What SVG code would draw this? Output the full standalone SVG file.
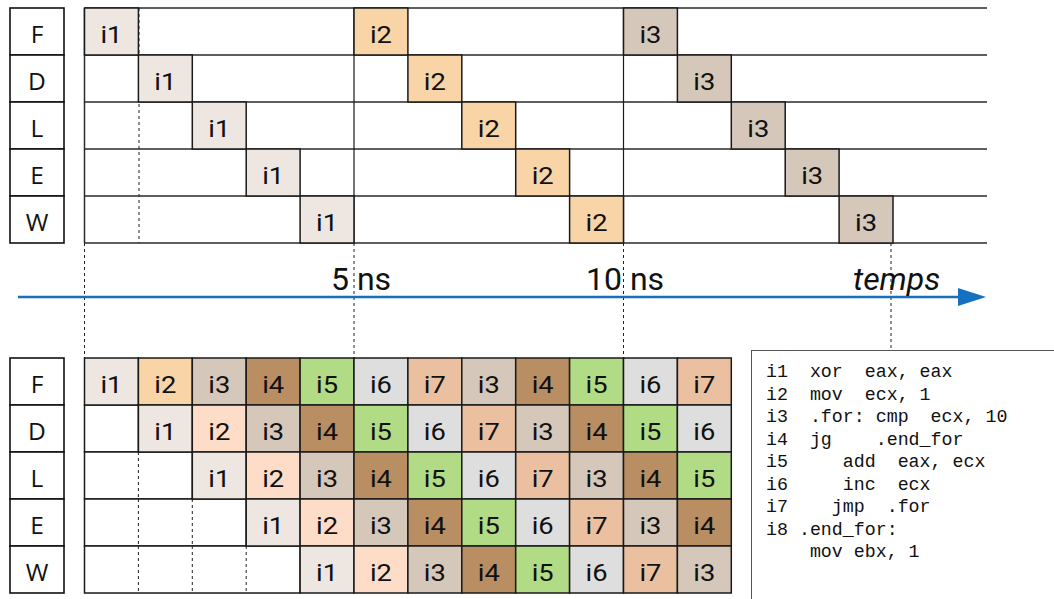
<svg xmlns="http://www.w3.org/2000/svg" width="1054" height="599" viewBox="0 0 1054 599">
<style>
.lb{fill:#fff;stroke:#111;stroke-width:1.6}
.lt{font-family:"Open Sans","Noto Sans",sans-serif;font-size:24.5px;fill:#111;text-anchor:middle}
.cr{stroke:#1a1a1a;stroke-width:1.5}
.ct{font-family:Roboto,"Liberation Sans",sans-serif;font-size:23px;fill:#111;text-anchor:middle}
.empty{fill:#fff;stroke:#1a1a1a;stroke-width:1.5}
.row{stroke:#2a2a2a;stroke-width:1.5;fill:none}
.sol{stroke:#1a1a1a;stroke-width:1.2;fill:none}
.dash{stroke:#222;stroke-width:1;stroke-dasharray:3 3;fill:none}
.c1{fill:#EEE6E0}.c2{fill:#F8D4A7}.c2b{fill:#FEDDC8}.c3{fill:#D5C7BA}.c4{fill:#B88E62}.c5{fill:#B1DC85}.c6{fill:#DEDEDE}.c7{fill:#EBC0A1}
.tl{font-family:Roboto,"Liberation Sans",sans-serif;font-size:32px;fill:#111}
.code{font-family:"Liberation Mono","DejaVu Sans Mono",monospace;font-size:18.3px;fill:#111}
</style>
<rect width="1054" height="599" fill="#fff"/>

<!-- top labels -->
<g id="top-labels">
<g id="tlF"><rect class="lb" x="10" y="8" width="54" height="47"/><text class="lt" x="37" y="42.5">F</text></g>
<g id="tlD"><rect class="lb" x="10" y="55" width="54" height="47"/><text class="lt" x="37" y="89.5">D</text></g>
<g id="tlL"><rect class="lb" x="10" y="102" width="54" height="47"/><text class="lt" x="37" y="136.5">L</text></g>
<g id="tlE"><rect class="lb" x="10" y="149" width="54" height="47"/><text class="lt" x="37" y="183.5">E</text></g>
<g id="tlW"><rect class="lb" x="10" y="196" width="54" height="47"/><text class="lt" x="37" y="230.5">W</text></g>
</g>

<!-- top grid lines -->
<g id="top-grid">
<line class="row" x1="84.5" y1="8" x2="987" y2="8"/>
<line class="row" x1="84.5" y1="55" x2="987" y2="55"/>
<line class="row" x1="84.5" y1="102" x2="987" y2="102"/>
<line class="row" x1="84.5" y1="149" x2="987" y2="149"/>
<line class="row" x1="84.5" y1="196" x2="987" y2="196"/>
<line class="row" x1="84.5" y1="243" x2="987" y2="243"/>
<line class="row" x1="84.5" y1="8" x2="84.5" y2="243"/>
<line class="sol" x1="354" y1="8" x2="354" y2="243"/>
<line class="sol" x1="623.5" y1="8" x2="623.5" y2="243"/>
<line class="dash" x1="139" y1="8" x2="139" y2="243"/>
</g>

<!-- top cells -->
<g id="top-cells">
<g id="t-F-i1"><rect class="cr c1" x="84.5" y="8" width="53.9" height="47"/><text class="ct" x="111.45" y="42.5" textLength="22" lengthAdjust="spacingAndGlyphs">i1</text></g>
<g id="t-D-i1"><rect class="cr c1" x="138.4" y="55" width="53.9" height="47"/><text class="ct" x="165.35" y="89.5" textLength="22" lengthAdjust="spacingAndGlyphs">i1</text></g>
<g id="t-L-i1"><rect class="cr c1" x="192.3" y="102" width="53.9" height="47"/><text class="ct" x="219.25" y="136.5" textLength="22" lengthAdjust="spacingAndGlyphs">i1</text></g>
<g id="t-E-i1"><rect class="cr c1" x="246.2" y="149" width="53.9" height="47"/><text class="ct" x="273.15" y="183.5" textLength="22" lengthAdjust="spacingAndGlyphs">i1</text></g>
<g id="t-W-i1"><rect class="cr c1" x="300.1" y="196" width="53.9" height="47"/><text class="ct" x="327.05" y="230.5" textLength="22" lengthAdjust="spacingAndGlyphs">i1</text></g>
<g id="t-F-i2"><rect class="cr c2" x="354" y="8" width="53.9" height="47"/><text class="ct" x="380.95" y="42.5" textLength="22" lengthAdjust="spacingAndGlyphs">i2</text></g>
<g id="t-D-i2"><rect class="cr c2" x="407.9" y="55" width="53.9" height="47"/><text class="ct" x="434.85" y="89.5" textLength="22" lengthAdjust="spacingAndGlyphs">i2</text></g>
<g id="t-L-i2"><rect class="cr c2" x="461.8" y="102" width="53.9" height="47"/><text class="ct" x="488.75" y="136.5" textLength="22" lengthAdjust="spacingAndGlyphs">i2</text></g>
<g id="t-E-i2"><rect class="cr c2" x="515.7" y="149" width="53.9" height="47"/><text class="ct" x="542.65" y="183.5" textLength="22" lengthAdjust="spacingAndGlyphs">i2</text></g>
<g id="t-W-i2"><rect class="cr c2" x="569.6" y="196" width="53.9" height="47"/><text class="ct" x="596.55" y="230.5" textLength="22" lengthAdjust="spacingAndGlyphs">i2</text></g>
<g id="t-F-i3"><rect class="cr c3" x="623.5" y="8" width="53.9" height="47"/><text class="ct" x="650.45" y="42.5" textLength="22" lengthAdjust="spacingAndGlyphs">i3</text></g>
<g id="t-D-i3"><rect class="cr c3" x="677.4" y="55" width="53.9" height="47"/><text class="ct" x="704.35" y="89.5" textLength="22" lengthAdjust="spacingAndGlyphs">i3</text></g>
<g id="t-L-i3"><rect class="cr c3" x="731.3" y="102" width="53.9" height="47"/><text class="ct" x="758.25" y="136.5" textLength="22" lengthAdjust="spacingAndGlyphs">i3</text></g>
<g id="t-E-i3"><rect class="cr c3" x="785.2" y="149" width="53.9" height="47"/><text class="ct" x="812.15" y="183.5" textLength="22" lengthAdjust="spacingAndGlyphs">i3</text></g>
<g id="t-W-i3"><rect class="cr c3" x="839.1" y="196" width="53.9" height="47"/><text class="ct" x="866.05" y="230.5" textLength="22" lengthAdjust="spacingAndGlyphs">i3</text></g>
</g>

<!-- connectors: time guides and axis -->
<g id="connectors">
<line class="dash" x1="84.5" y1="243" x2="84.5" y2="358"/>
<line class="dash" x1="354" y1="243" x2="354" y2="358"/>
<line class="dash" x1="623.5" y1="243" x2="623.5" y2="358"/>
<line class="dash" x1="891" y1="243" x2="891" y2="350"/>
<line x1="18" y1="297" x2="960" y2="297" stroke="#1570C0" stroke-width="2.6"/>
<polygon points="958,288 986,297 958,306" fill="#1570C0"/>
</g>

<g id="axis-labels">
<text class="tl" x="331" y="290">5 ns</text>
<text class="tl" x="586" y="290">10 ns</text>
<text class="tl" x="853" y="290" font-style="italic">temps</text>
</g>

<!-- bottom labels -->
<g id="bottom-labels">
<g id="blF"><rect class="lb" x="10" y="358" width="54" height="47"/><text class="lt" x="37" y="392.5">F</text></g>
<g id="blD"><rect class="lb" x="10" y="405" width="54" height="47"/><text class="lt" x="37" y="439.5">D</text></g>
<g id="blL"><rect class="lb" x="10" y="452" width="54" height="47"/><text class="lt" x="37" y="486.5">L</text></g>
<g id="blE"><rect class="lb" x="10" y="499" width="54" height="47"/><text class="lt" x="37" y="533.5">E</text></g>
<g id="blW"><rect class="lb" x="10" y="546" width="54" height="47"/><text class="lt" x="37" y="580.5">W</text></g>
</g>

<!-- bottom empty slots -->
<g id="bottom-empty">
<rect class="empty" x="84.5" y="405" width="53.9" height="47"/>
<rect class="empty" x="84.5" y="452" width="107.8" height="47"/>
<rect class="empty" x="84.5" y="499" width="161.7" height="47"/>
<rect class="empty" x="84.5" y="546" width="215.6" height="47"/>
<line class="dash" x1="138.4" y1="452" x2="138.4" y2="499"/>
<line class="dash" x1="138.4" y1="499" x2="138.4" y2="546"/>
<line class="dash" x1="192.3" y1="499" x2="192.3" y2="546"/>
<line class="dash" x1="138.4" y1="546" x2="138.4" y2="593"/>
<line class="dash" x1="192.3" y1="546" x2="192.3" y2="593"/>
<line class="dash" x1="246.2" y1="546" x2="246.2" y2="593"/>
</g>

<!-- bottom cells -->
<g id="bottom-cells">
<g id="b-F-1"><rect class="cr c1" x="84.5" y="358" width="53.9" height="47"/><text class="ct" x="111.45" y="392.5" textLength="22" lengthAdjust="spacingAndGlyphs">i1</text></g>
<g id="b-F-2"><rect class="cr c2" x="138.4" y="358" width="53.9" height="47"/><text class="ct" x="165.35" y="392.5" textLength="22" lengthAdjust="spacingAndGlyphs">i2</text></g>
<g id="b-F-3"><rect class="cr c3" x="192.3" y="358" width="53.9" height="47"/><text class="ct" x="219.25" y="392.5" textLength="22" lengthAdjust="spacingAndGlyphs">i3</text></g>
<g id="b-F-4"><rect class="cr c4" x="246.2" y="358" width="53.9" height="47"/><text class="ct" x="273.15" y="392.5" textLength="22" lengthAdjust="spacingAndGlyphs">i4</text></g>
<g id="b-F-5"><rect class="cr c5" x="300.1" y="358" width="53.9" height="47"/><text class="ct" x="327.05" y="392.5" textLength="22" lengthAdjust="spacingAndGlyphs">i5</text></g>
<g id="b-F-6"><rect class="cr c6" x="354" y="358" width="53.9" height="47"/><text class="ct" x="380.95" y="392.5" textLength="22" lengthAdjust="spacingAndGlyphs">i6</text></g>
<g id="b-F-7"><rect class="cr c7" x="407.9" y="358" width="53.9" height="47"/><text class="ct" x="434.85" y="392.5" textLength="22" lengthAdjust="spacingAndGlyphs">i7</text></g>
<g id="b-F-8"><rect class="cr c3" x="461.8" y="358" width="53.9" height="47"/><text class="ct" x="488.75" y="392.5" textLength="22" lengthAdjust="spacingAndGlyphs">i3</text></g>
<g id="b-F-9"><rect class="cr c4" x="515.7" y="358" width="53.9" height="47"/><text class="ct" x="542.65" y="392.5" textLength="22" lengthAdjust="spacingAndGlyphs">i4</text></g>
<g id="b-F-10"><rect class="cr c5" x="569.6" y="358" width="53.9" height="47"/><text class="ct" x="596.55" y="392.5" textLength="22" lengthAdjust="spacingAndGlyphs">i5</text></g>
<g id="b-F-11"><rect class="cr c6" x="623.5" y="358" width="53.9" height="47"/><text class="ct" x="650.45" y="392.5" textLength="22" lengthAdjust="spacingAndGlyphs">i6</text></g>
<g id="b-F-12"><rect class="cr c7" x="677.4" y="358" width="53.9" height="47"/><text class="ct" x="704.35" y="392.5" textLength="22" lengthAdjust="spacingAndGlyphs">i7</text></g>
<g id="b-D-2"><rect class="cr c1" x="138.4" y="405" width="53.9" height="47"/><text class="ct" x="165.35" y="439.5" textLength="22" lengthAdjust="spacingAndGlyphs">i1</text></g>
<g id="b-D-3"><rect class="cr c2b" x="192.3" y="405" width="53.9" height="47"/><text class="ct" x="219.25" y="439.5" textLength="22" lengthAdjust="spacingAndGlyphs">i2</text></g>
<g id="b-D-4"><rect class="cr c3" x="246.2" y="405" width="53.9" height="47"/><text class="ct" x="273.15" y="439.5" textLength="22" lengthAdjust="spacingAndGlyphs">i3</text></g>
<g id="b-D-5"><rect class="cr c4" x="300.1" y="405" width="53.9" height="47"/><text class="ct" x="327.05" y="439.5" textLength="22" lengthAdjust="spacingAndGlyphs">i4</text></g>
<g id="b-D-6"><rect class="cr c5" x="354" y="405" width="53.9" height="47"/><text class="ct" x="380.95" y="439.5" textLength="22" lengthAdjust="spacingAndGlyphs">i5</text></g>
<g id="b-D-7"><rect class="cr c6" x="407.9" y="405" width="53.9" height="47"/><text class="ct" x="434.85" y="439.5" textLength="22" lengthAdjust="spacingAndGlyphs">i6</text></g>
<g id="b-D-8"><rect class="cr c7" x="461.8" y="405" width="53.9" height="47"/><text class="ct" x="488.75" y="439.5" textLength="22" lengthAdjust="spacingAndGlyphs">i7</text></g>
<g id="b-D-9"><rect class="cr c3" x="515.7" y="405" width="53.9" height="47"/><text class="ct" x="542.65" y="439.5" textLength="22" lengthAdjust="spacingAndGlyphs">i3</text></g>
<g id="b-D-10"><rect class="cr c4" x="569.6" y="405" width="53.9" height="47"/><text class="ct" x="596.55" y="439.5" textLength="22" lengthAdjust="spacingAndGlyphs">i4</text></g>
<g id="b-D-11"><rect class="cr c5" x="623.5" y="405" width="53.9" height="47"/><text class="ct" x="650.45" y="439.5" textLength="22" lengthAdjust="spacingAndGlyphs">i5</text></g>
<g id="b-D-12"><rect class="cr c6" x="677.4" y="405" width="53.9" height="47"/><text class="ct" x="704.35" y="439.5" textLength="22" lengthAdjust="spacingAndGlyphs">i6</text></g>
<g id="b-L-3"><rect class="cr c1" x="192.3" y="452" width="53.9" height="47"/><text class="ct" x="219.25" y="486.5" textLength="22" lengthAdjust="spacingAndGlyphs">i1</text></g>
<g id="b-L-4"><rect class="cr c2b" x="246.2" y="452" width="53.9" height="47"/><text class="ct" x="273.15" y="486.5" textLength="22" lengthAdjust="spacingAndGlyphs">i2</text></g>
<g id="b-L-5"><rect class="cr c3" x="300.1" y="452" width="53.9" height="47"/><text class="ct" x="327.05" y="486.5" textLength="22" lengthAdjust="spacingAndGlyphs">i3</text></g>
<g id="b-L-6"><rect class="cr c4" x="354" y="452" width="53.9" height="47"/><text class="ct" x="380.95" y="486.5" textLength="22" lengthAdjust="spacingAndGlyphs">i4</text></g>
<g id="b-L-7"><rect class="cr c5" x="407.9" y="452" width="53.9" height="47"/><text class="ct" x="434.85" y="486.5" textLength="22" lengthAdjust="spacingAndGlyphs">i5</text></g>
<g id="b-L-8"><rect class="cr c6" x="461.8" y="452" width="53.9" height="47"/><text class="ct" x="488.75" y="486.5" textLength="22" lengthAdjust="spacingAndGlyphs">i6</text></g>
<g id="b-L-9"><rect class="cr c7" x="515.7" y="452" width="53.9" height="47"/><text class="ct" x="542.65" y="486.5" textLength="22" lengthAdjust="spacingAndGlyphs">i7</text></g>
<g id="b-L-10"><rect class="cr c3" x="569.6" y="452" width="53.9" height="47"/><text class="ct" x="596.55" y="486.5" textLength="22" lengthAdjust="spacingAndGlyphs">i3</text></g>
<g id="b-L-11"><rect class="cr c4" x="623.5" y="452" width="53.9" height="47"/><text class="ct" x="650.45" y="486.5" textLength="22" lengthAdjust="spacingAndGlyphs">i4</text></g>
<g id="b-L-12"><rect class="cr c5" x="677.4" y="452" width="53.9" height="47"/><text class="ct" x="704.35" y="486.5" textLength="22" lengthAdjust="spacingAndGlyphs">i5</text></g>
<g id="b-E-4"><rect class="cr c1" x="246.2" y="499" width="53.9" height="47"/><text class="ct" x="273.15" y="533.5" textLength="22" lengthAdjust="spacingAndGlyphs">i1</text></g>
<g id="b-E-5"><rect class="cr c2b" x="300.1" y="499" width="53.9" height="47"/><text class="ct" x="327.05" y="533.5" textLength="22" lengthAdjust="spacingAndGlyphs">i2</text></g>
<g id="b-E-6"><rect class="cr c3" x="354" y="499" width="53.9" height="47"/><text class="ct" x="380.95" y="533.5" textLength="22" lengthAdjust="spacingAndGlyphs">i3</text></g>
<g id="b-E-7"><rect class="cr c4" x="407.9" y="499" width="53.9" height="47"/><text class="ct" x="434.85" y="533.5" textLength="22" lengthAdjust="spacingAndGlyphs">i4</text></g>
<g id="b-E-8"><rect class="cr c5" x="461.8" y="499" width="53.9" height="47"/><text class="ct" x="488.75" y="533.5" textLength="22" lengthAdjust="spacingAndGlyphs">i5</text></g>
<g id="b-E-9"><rect class="cr c6" x="515.7" y="499" width="53.9" height="47"/><text class="ct" x="542.65" y="533.5" textLength="22" lengthAdjust="spacingAndGlyphs">i6</text></g>
<g id="b-E-10"><rect class="cr c7" x="569.6" y="499" width="53.9" height="47"/><text class="ct" x="596.55" y="533.5" textLength="22" lengthAdjust="spacingAndGlyphs">i7</text></g>
<g id="b-E-11"><rect class="cr c3" x="623.5" y="499" width="53.9" height="47"/><text class="ct" x="650.45" y="533.5" textLength="22" lengthAdjust="spacingAndGlyphs">i3</text></g>
<g id="b-E-12"><rect class="cr c4" x="677.4" y="499" width="53.9" height="47"/><text class="ct" x="704.35" y="533.5" textLength="22" lengthAdjust="spacingAndGlyphs">i4</text></g>
<g id="b-W-5"><rect class="cr c1" x="300.1" y="546" width="53.9" height="47"/><text class="ct" x="327.05" y="580.5" textLength="22" lengthAdjust="spacingAndGlyphs">i1</text></g>
<g id="b-W-6"><rect class="cr c2b" x="354" y="546" width="53.9" height="47"/><text class="ct" x="380.95" y="580.5" textLength="22" lengthAdjust="spacingAndGlyphs">i2</text></g>
<g id="b-W-7"><rect class="cr c3" x="407.9" y="546" width="53.9" height="47"/><text class="ct" x="434.85" y="580.5" textLength="22" lengthAdjust="spacingAndGlyphs">i3</text></g>
<g id="b-W-8"><rect class="cr c4" x="461.8" y="546" width="53.9" height="47"/><text class="ct" x="488.75" y="580.5" textLength="22" lengthAdjust="spacingAndGlyphs">i4</text></g>
<g id="b-W-9"><rect class="cr c5" x="515.7" y="546" width="53.9" height="47"/><text class="ct" x="542.65" y="580.5" textLength="22" lengthAdjust="spacingAndGlyphs">i5</text></g>
<g id="b-W-10"><rect class="cr c6" x="569.6" y="546" width="53.9" height="47"/><text class="ct" x="596.55" y="580.5" textLength="22" lengthAdjust="spacingAndGlyphs">i6</text></g>
<g id="b-W-11"><rect class="cr c7" x="623.5" y="546" width="53.9" height="47"/><text class="ct" x="650.45" y="580.5" textLength="22" lengthAdjust="spacingAndGlyphs">i7</text></g>
<g id="b-W-12"><rect class="cr c3" x="677.4" y="546" width="53.9" height="47"/><text class="ct" x="704.35" y="580.5" textLength="22" lengthAdjust="spacingAndGlyphs">i3</text></g>
</g>

<!-- code box -->
<g id="code-box">
<rect x="751.5" y="350.5" width="320" height="260" fill="#fff" stroke="#555" stroke-width="1"/>
<text class="code" xml:space="preserve" x="766" y="377">i1  xor  eax, eax</text>
<text class="code" xml:space="preserve" x="766" y="399.5">i2  mov  ecx, 1</text>
<text class="code" xml:space="preserve" x="766" y="422">i3  .for: cmp  ecx, 10</text>
<text class="code" xml:space="preserve" x="766" y="444.5">i4  jg    .end_for</text>
<text class="code" xml:space="preserve" x="766" y="467">i5     add  eax, ecx</text>
<text class="code" xml:space="preserve" x="766" y="489.5">i6     inc  ecx</text>
<text class="code" xml:space="preserve" x="766" y="512">i7    jmp  .for</text>
<text class="code" xml:space="preserve" x="766" y="534.5">i8 .end_for:</text>
<text class="code" xml:space="preserve" x="766" y="557">    mov ebx, 1</text>
</g>
</svg>
